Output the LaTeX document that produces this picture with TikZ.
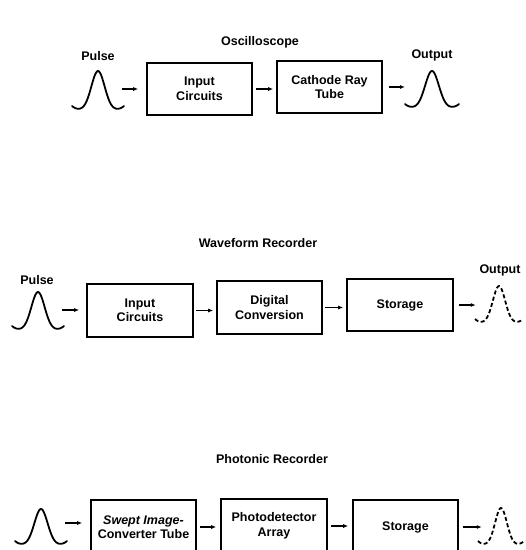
\documentclass[tikz,border=0pt]{standalone}
\usepackage{fontspec}
\setmainfont{Liberation Sans}
\usetikzlibrary{arrows.meta}
\newcommand\lblfont{\fontsize{12.5}{14.5}\selectfont\bfseries}
\begin{document}
\begin{tikzpicture}[x=1pt,y=-1pt,
  box/.style={draw, line width=1.6pt, minimum width=105pt, minimum height=52pt,
              align=center, inner sep=0pt, font=\lblfont},
  lab/.style={font=\lblfont, inner sep=0pt},
  arr/.style={line width=1.1pt, -{Latex[length=5pt,width=4pt]}},
  pl/.style={line width=1.8pt, line cap=round},
  pld/.style={line width=1.8pt, dash pattern=on 4pt off 2.5pt},
  pics/pulse/.style n args={3}{code={
    \draw[#3] plot[domain=-#2:#2, samples=61, smooth]
      (\x,{-#1*exp(-(\x/(#2*0.36))*(\x/(#2*0.36))) - 4*((\x/#2)*(\x/#2))^3});
  }}]
\fill[white] (0,0) rectangle (526,550);
\useasboundingbox (0,0) rectangle (526,550);
\clip (0,0) rectangle (526,550);

% ---------------- Oscilloscope ----------------
\node[lab] (ttitle) at (260,42) {Oscilloscope};
\coordinate (tin) at (98,110);
\pic at (tin) {pulse={39}{26}{pl}};
\node[lab] (tpulse) at (98,56) {Pulse};
\node[box] (t1) at (199.5,89) {Input\\Circuits};
\node[box] (t2) at (329.5,87) {Cathode Ray\\Tube};
\coordinate (tout) at (432,108);
\pic at (tout) {pulse={37}{27}{pl}};
\node[lab] (toutl) at (432,55) {Output};
\coordinate (ta) at (122,89);
\draw[arr, shorten >=8pt] (ta) -- (ta -| t1.west);
\draw[arr, shorten <=3pt, shorten >=3pt] (t1.east) -- (t1.east -| t2.west);
\draw[arr] ([xshift=6pt]t2.east) -- ([xshift=-27pt,yshift=21pt]tout);

% ---------------- Waveform Recorder ----------------
\node[lab] (mtitle) at (258,243) {Waveform Recorder};
\coordinate (min) at (38,330);
\pic at (min) {pulse={38}{26}{pl}};
\node[lab] (mpulse) at (37,280) {Pulse};
\node[box, minimum width=106pt, minimum height=53pt] (m1) at (140,310.5) {Input\\Circuits};
\node[box, minimum height=53pt] (m2) at (269.5,307.5) {Digital\\Conversion};
\node[box, minimum width=106pt] (m3) at (400,305) {Storage};
\coordinate (mout) at (499,323);
\pic at (mout) {pulse={37}{24}{pld}};
\node[lab] (moutl) at (500,270) {Output};
\coordinate (ma) at (62,310);
\draw[arr, shorten >=7pt] (ma) -- (ma -| m1.west);
\draw[arr, shorten <=2pt, shorten >=3pt] (m1.east) -- (m1.east -| m2.west);
\draw[arr, shorten <=2pt, shorten >=3pt] (m2.east) -- (m2.east -| m3.west);
\draw[arr] ([xshift=5pt]m3.east) -- ++(17,0);

% ---------------- Photonic Recorder ----------------
\node[lab] (btitle) at (272,459) {Photonic Recorder};
\coordinate (bin) at (41,545);
\pic at (bin) {pulse={36}{26}{pl}};
\node[box, minimum height=54pt] (b1) at (143.5,527) {{\itshape Swept Image-}\\Converter Tube};
\node[box, minimum width=106pt, minimum height=54pt] (b2) at (274,526) {Photodetector\\Array};
\node[box, minimum height=54pt] (b3) at (405.5,527) {Storage};
\coordinate (bout) at (501,545);
\pic at (bout) {pulse={37}{23}{pld}};
\coordinate (ba) at (65,523);
\draw[arr, shorten >=8pt] (ba) -- (ba -| b1.west);
\draw[arr, shorten <=3pt, shorten >=4pt] (b1.east) -- (b1.east -| b2.west);
\draw[arr, shorten <=3pt, shorten >=4pt] (b2.east) -- (b2.east -| b3.west);
\draw[arr] ([xshift=4pt]b3.east) -- ++(19,0);
\end{tikzpicture}
\end{document}
